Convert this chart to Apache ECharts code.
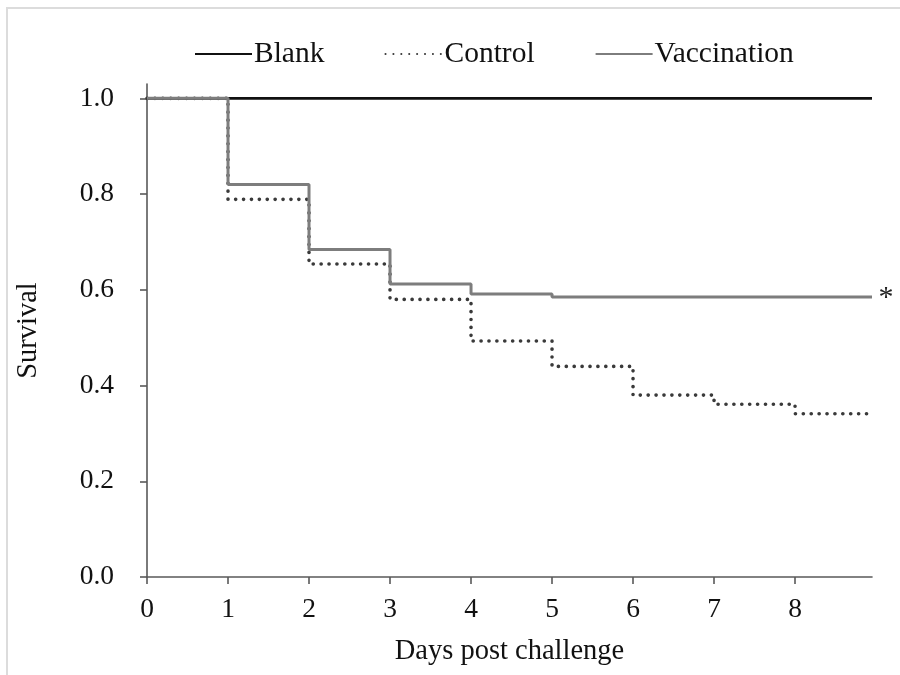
<!DOCTYPE html>
<html>
<head>
<meta charset="utf-8">
<script src="https://cdn.jsdelivr.net/npm/echarts@6/dist/echarts.min.js"></script>
<style>html,body{margin:0;padding:0;background:#fff;}#chart{width:900px;height:675px;}</style>
</head>
<body>
<div id="chart"></div>
<script>
const days = [0, 1, 2, 3, 4, 5, 6, 7, 8, 8.95];
const blank = [1, 1, 1, 1, 1, 1, 1, 1, 1, 1];
const control = [1, 0.789, 0.654, 0.580, 0.493, 0.440, 0.380, 0.361, 0.341, 0.341];
const vaccination = [1, 0.820, 0.684, 0.612, 0.591, 0.585, 0.585, 0.585, 0.585, 0.585];
const xTicks = [0, 1, 2, 3, 4, 5, 6, 7, 8];
const yTicks = [0, 0.2, 0.4, 0.6, 0.8, 1.0];
const seriesNames = ['Blank', 'Control', 'Vaccination'];
const annotation = '*';

const FONT = '"Liberation Serif", "Times New Roman", serif';
function pts(vals) {
  return days.map((d, i) => [d, vals[i]]);
}
const last = days.length - 1;
const chart = echarts.init(document.getElementById('chart'), null, { renderer: 'canvas' });
const axisColor = '#595959';
chart.setOption({
  backgroundColor: '#fff',
  animation: false,
  graphic: [{ type: 'rect', shape: { x: 7, y: 8, width: 900, height: 700 },
    style: { fill: 'none', stroke: '#dcdcdc', lineWidth: 2 }, silent: true }],
  legend: {
    data: seriesNames,
    left: 189, top: 34,
    itemWidth: 57, itemHeight: 14, itemGap: 60,
    itemStyle: { opacity: 0 },
    textStyle: { fontFamily: FONT, fontSize: 29.5, color: '#111', padding: [0, 0, 0, -3] }
  },
  grid: { left: 147, right: 28, top: 84, bottom: 98, containLabel: false },
  xAxis: {
    type: 'value', min: 0, max: 8.95, interval: 1,
    name: 'Days post challenge', nameLocation: 'middle', nameGap: 60,
    nameTextStyle: { fontFamily: FONT, fontSize: 28.5, color: '#111' },
    axisLine: { lineStyle: { color: axisColor, width: 1.6 } },
    axisTick: { show: true, length: 7, customValues: xTicks, lineStyle: { color: axisColor, width: 1.6 } },
    axisLabel: { customValues: xTicks, margin: 19, fontFamily: FONT, fontSize: 27.5, color: '#111' },
    splitLine: { show: false }
  },
  yAxis: {
    type: 'value', min: 0, max: 1.03, interval: 0.2,
    name: 'Survival', nameLocation: 'middle', nameGap: 104, nameRotate: 90,
    nameTextStyle: { fontFamily: FONT, fontSize: 28.5, color: '#111' },
    axisLine: { show: true, lineStyle: { color: axisColor, width: 1.6 } },
    axisTick: { show: true, length: 7, customValues: yTicks, lineStyle: { color: axisColor, width: 1.6 } },
    axisLabel: { customValues: yTicks, margin: 33, fontFamily: FONT, fontSize: 27.5, color: '#111',
      formatter: v => Number(v).toFixed(1) },
    splitLine: { show: false }
  },
  series: [
    { name: seriesNames[0], type: 'line', step: 'end', symbol: 'none', data: pts(blank),
      lineStyle: { color: '#111', width: 2.6 }, itemStyle: { color: '#111' }, z: 2 },
    { name: seriesNames[1], type: 'line', step: 'end', symbol: 'none', data: pts(control),
      lineStyle: { color: '#3a3a3a', width: 3.6, type: [0.1, 7.8], cap: 'round' }, itemStyle: { color: '#3a3a3a' }, z: 3 },
    { name: seriesNames[2], type: 'line', step: 'end', symbol: 'none', data: pts(vaccination),
      lineStyle: { color: '#7d7d7d', width: 3 }, itemStyle: { color: '#7d7d7d' }, z: 4,
      markPoint: {
        symbol: 'circle', symbolSize: 1,
        itemStyle: { color: 'rgba(0,0,0,0)' },
        label: { show: true, position: 'right', distance: 6, formatter: annotation,
          fontFamily: FONT, fontSize: 30, color: '#222', offset: [0, 1] },
        data: [{ coord: [days[last], vaccination[last]] }]
      }
    }
  ]
});
</script>
</body>
</html>
